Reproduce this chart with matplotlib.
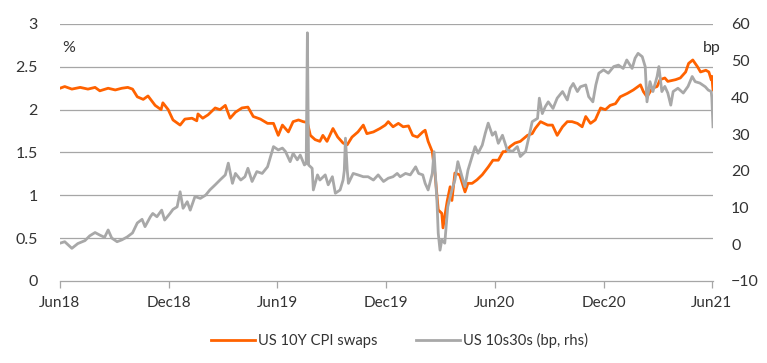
import matplotlib
matplotlib.use("Agg")
import matplotlib.pyplot as plt
import pandas as pd

plt.rcParams['font.family'] = ['Lato', 'DejaVu Sans']

# ---- data -------------------------------------------------------------
cpi_dates = [
    "2018-06-01", "2018-06-09", "2018-06-21", "2018-07-05", "2018-07-18", "2018-07-30",
    "2018-08-07", "2018-08-21", "2018-09-02", "2018-09-13", "2018-09-23", "2018-10-01",
    "2018-10-09", "2018-10-19", "2018-10-27", "2018-11-08", "2018-11-18", "2018-11-21",
    "2018-11-30", "2018-12-08", "2018-12-20", "2018-12-28", "2019-01-09", "2019-01-17",
    "2019-01-19", "2019-01-27", "2019-02-05", "2019-02-17", "2019-02-25", "2019-03-06",
    "2019-03-14", "2019-03-23", "2019-04-03", "2019-04-13", "2019-04-22", "2019-05-04",
    "2019-05-16", "2019-05-26", "2019-06-03", "2019-06-10", "2019-06-20", "2019-06-28",
    "2019-07-07", "2019-07-15", "2019-07-22", "2019-07-27", "2019-08-04", "2019-08-12",
    "2019-08-17", "2019-08-24", "2019-09-03", "2019-09-11", "2019-09-20", "2019-09-27",
    "2019-10-05", "2019-10-15", "2019-10-24", "2019-10-30", "2019-11-10", "2019-11-21",
    "2019-11-30", "2019-12-05", "2019-12-13", "2019-12-22", "2019-12-30", "2020-01-08",
    "2020-01-15", "2020-01-23", "2020-02-01", "2020-02-05", "2020-02-10", "2020-02-17",
    "2020-02-22", "2020-02-27", "2020-03-04", "2020-03-06", "2020-03-13", "2020-03-18",
    "2020-03-21", "2020-03-26", "2020-04-03", "2020-04-12", "2020-04-17", "2020-04-24",
    "2020-05-02", "2020-05-11", "2020-05-21", "2020-05-29", "2020-06-07", "2020-06-15",
    "2020-06-19", "2020-06-27", "2020-07-05", "2020-07-14", "2020-07-26", "2020-08-03",
    "2020-08-08", "2020-08-17", "2020-08-29", "2020-09-06", "2020-09-14", "2020-09-23",
    "2020-10-01", "2020-10-09", "2020-10-18", "2020-10-26", "2020-11-01", "2020-11-09",
    "2020-11-17", "2020-11-26", "2020-12-04", "2020-12-12", "2020-12-21", "2020-12-29",
    "2021-01-10", "2021-01-20", "2021-02-01", "2021-02-06", "2021-02-12", "2021-02-21",
    "2021-03-01", "2021-03-06", "2021-03-14", "2021-03-19", "2021-04-01", "2021-04-09",
    "2021-04-18", "2021-04-23", "2021-04-30", "2021-05-08", "2021-05-13", "2021-05-22",
    "2021-05-27", "2021-05-31", "2021-06-01", "2021-06-03",
]
cpi_swaps = [
    2.25, 2.27, 2.24, 2.26, 2.24, 2.26,
    2.22, 2.25, 2.23, 2.25, 2.26, 2.24,
    2.15, 2.12, 2.16, 2.05, 2.00, 2.08,
    2.00, 1.88, 1.82, 1.89, 1.90, 1.87,
    1.95, 1.90, 1.94, 2.02, 2.00, 2.05,
    1.90, 1.97, 2.02, 2.03, 1.92, 1.89,
    1.84, 1.84, 1.70, 1.82, 1.74, 1.86,
    1.88, 1.86, 1.85, 1.70, 1.65, 1.63,
    1.70, 1.63, 1.78, 1.68, 1.61, 1.59,
    1.68, 1.74, 1.82, 1.72, 1.74, 1.78,
    1.82, 1.86, 1.80, 1.84, 1.80, 1.81,
    1.70, 1.68, 1.74, 1.76, 1.63, 1.51,
    1.22, 0.83, 0.79, 0.62, 0.93, 1.10,
    0.94, 1.26, 1.24, 1.04, 1.14, 1.14,
    1.18, 1.24, 1.33, 1.41, 1.41, 1.51,
    1.51, 1.57, 1.61, 1.63, 1.70, 1.72,
    1.78, 1.86, 1.82, 1.82, 1.70, 1.80,
    1.86, 1.86, 1.84, 1.80, 1.92, 1.84,
    1.88, 2.02, 2.00, 2.05, 2.07, 2.15,
    2.19, 2.23, 2.29, 2.21, 2.15, 2.25,
    2.27, 2.35, 2.37, 2.33, 2.35, 2.37,
    2.44, 2.54, 2.58, 2.50, 2.44, 2.46,
    2.44, 2.35, 2.39, 2.23,
]

curve_dates = [
    "2018-06-01", "2018-06-09", "2018-06-21", "2018-07-01", "2018-07-13", "2018-07-21",
    "2018-07-30", "2018-08-07", "2018-08-15", "2018-08-21", "2018-08-27", "2018-09-05",
    "2018-09-13", "2018-09-22", "2018-10-01", "2018-10-09", "2018-10-17", "2018-10-22",
    "2018-10-31", "2018-11-04", "2018-11-11", "2018-11-19", "2018-11-24", "2018-12-03",
    "2018-12-08", "2018-12-15", "2018-12-20", "2018-12-25", "2019-01-01", "2019-01-06",
    "2019-01-14", "2019-01-23", "2019-02-01", "2019-02-08", "2019-02-17", "2019-02-25",
    "2019-03-06", "2019-03-11", "2019-03-18", "2019-03-23", "2019-04-01", "2019-04-08",
    "2019-04-13", "2019-04-20", "2019-04-28", "2019-05-07", "2019-05-16", "2019-05-21",
    "2019-05-26", "2019-06-03", "2019-06-10", "2019-06-15", "2019-06-23", "2019-06-28",
    "2019-07-05", "2019-07-10", "2019-07-17", "2019-07-20", "2019-07-22", "2019-07-24",
    "2019-07-30", "2019-08-01", "2019-08-08", "2019-08-12", "2019-08-21", "2019-08-26",
    "2019-09-02", "2019-09-07", "2019-09-15", "2019-09-20", "2019-09-22", "2019-09-24",
    "2019-09-27", "2019-09-29", "2019-10-07", "2019-10-15", "2019-10-24", "2019-11-01",
    "2019-11-10", "2019-11-18", "2019-11-27", "2019-12-05", "2019-12-13", "2019-12-20",
    "2019-12-25", "2020-01-03", "2020-01-11", "2020-01-20", "2020-01-25", "2020-02-01",
    "2020-02-05", "2020-02-10", "2020-02-17", "2020-02-20", "2020-02-25", "2020-02-27",
    "2020-03-01", "2020-03-04", "2020-03-09", "2020-03-14", "2020-03-21", "2020-03-26",
    "2020-03-31", "2020-04-07", "2020-04-12", "2020-04-17", "2020-04-24", "2020-04-29",
    "2020-05-04", "2020-05-11", "2020-05-16", "2020-05-21", "2020-05-28", "2020-06-02",
    "2020-06-07", "2020-06-14", "2020-06-22", "2020-07-01", "2020-07-09", "2020-07-14",
    "2020-07-23", "2020-07-28", "2020-08-03", "2020-08-12", "2020-08-15", "2020-08-20",
    "2020-08-25", "2020-08-30", "2020-09-07", "2020-09-14", "2020-09-23", "2020-10-01",
    "2020-10-06", "2020-10-11", "2020-10-18", "2020-10-23", "2020-11-01", "2020-11-06",
    "2020-11-13", "2020-11-18", "2020-11-23", "2020-12-01", "2020-12-09", "2020-12-18",
    "2020-12-26", "2021-01-03", "2021-01-09", "2021-01-18", "2021-01-23", "2021-01-28",
    "2021-02-04", "2021-02-09", "2021-02-12", "2021-02-17", "2021-02-22", "2021-03-01",
    "2021-03-04", "2021-03-09", "2021-03-14", "2021-03-19", "2021-03-24", "2021-03-28",
    "2021-04-05", "2021-04-14", "2021-04-22", "2021-04-29", "2021-05-04", "2021-05-12",
    "2021-05-21", "2021-05-26", "2021-05-31", "2021-06-01", "2021-06-03",
]
us_10s30s = [
    0.3, 0.7, -1.1, 0.2, 1.0, 2.3,
    3.2, 2.5, 1.9, 3.9, 1.7, 0.7,
    1.2, 2.0, 3.1, 5.8, 6.8, 4.8,
    7.5, 8.4, 7.5, 9.3, 6.6, 8.4,
    9.5, 10.2, 14.3, 9.8, 11.6, 9.3,
    13.0, 12.5, 13.4, 14.8, 16.2, 17.5,
    18.9, 22.1, 16.6, 19.3, 17.5, 18.4,
    20.7, 17.1, 19.8, 19.3, 21.1, 23.9,
    26.6, 25.7, 26.2, 25.3, 22.5, 24.8,
    23.0, 24.3, 21.6, 22.0, 57.6, 21.6,
    20.7, 14.8, 18.9, 17.5, 18.9, 16.2,
    18.4, 13.9, 14.8, 17.5, 20.0, 28.9,
    20.2, 16.6, 19.3, 18.9, 18.4, 18.4,
    17.5, 18.9, 17.1, 18.0, 18.4, 19.3,
    18.4, 19.3, 18.9, 21.1, 19.3, 18.9,
    16.6, 14.8, 19.3, 25.2, 11.2, 3.0,
    -1.6, 1.2, 0.3, 10.2, 14.8, 17.5,
    22.5, 18.4, 15.7, 20.2, 23.9, 26.6,
    24.8, 27.0, 30.2, 33.0, 29.7, 30.6,
    27.5, 29.7, 25.7, 25.3, 26.6, 23.9,
    25.3, 28.9, 33.4, 34.3, 39.8, 35.6,
    37.5, 38.8, 37.0, 39.8, 41.6, 39.3,
    42.5, 43.8, 41.6, 42.9, 43.4, 40.2,
    38.8, 43.4, 46.6, 47.5, 46.6, 48.4,
    48.8, 47.9, 50.2, 47.9, 50.7, 52.0,
    51.1, 48.4, 38.8, 44.3, 41.6, 45.7,
    48.4, 41.6, 43.0, 41.2, 37.9, 41.6,
    42.5, 41.2, 43.0, 45.7, 44.3, 43.9,
    42.9, 42.0, 41.6, 40.0, 32.0,
]

tick_dates = ["2018-06-01", "2018-12-01", "2019-06-01", "2019-12-01",
              "2020-06-01", "2020-12-01", "2021-06-01"]
tick_labels = ["Jun18", "Dec18", "Jun19", "Dec19", "Jun20", "Dec20", "Jun21"]
left_ticks = [0, 0.5, 1, 1.5, 2, 2.5, 3]
left_labels = ["0", "0.5", "1", "1.5", "2", "2.5", "3"]
right_ticks = [-10, 0, 10, 20, 30, 40, 50, 60]

# ---- style ------------------------------------------------------------
ORANGE = "#FF6200"
GREY = "#A8A8A8"
GRID = "#A6A6A6"
TEXT = "#333333"

fig = plt.figure(figsize=(7.67, 3.63), dpi=100)
ax = fig.add_axes([0.0782, 0.2259, 0.8514, 0.7080])
ax2 = ax.twinx()

cd = pd.to_datetime(cpi_dates)
gd = pd.to_datetime(curve_dates)

l1, = ax.plot(cd, cpi_swaps, color=ORANGE, lw=2.0, solid_joinstyle="round",
              label="US 10Y CPI swaps", zorder=3)
l2, = ax2.plot(gd, us_10s30s, color=GREY, lw=2.0, solid_joinstyle="round",
               label="US 10s30s (bp, rhs)", zorder=3)

ax.set_ylim(0, 3)
ax2.set_ylim(-10, 60)
ax.set_xlim(pd.Timestamp("2018-06-01"), pd.Timestamp("2021-06-03"))

ax.set_yticks(left_ticks)
ax.set_yticklabels(left_labels)
ax2.set_yticks(right_ticks)
ax.set_xticks(pd.to_datetime(tick_dates))
ax.set_xticklabels(tick_labels)

for y in left_ticks[1:]:
    ax.axhline(y, color=GRID, lw=0.9, zorder=1)

for a in (ax, ax2):
    for s in ("top", "left", "right", "bottom"):
        a.spines[s].set_visible(False)

ax.spines["bottom"].set_visible(True)
ax.spines["bottom"].set_color(GRID)
ax.spines["bottom"].set_linewidth(0.9)

ax.tick_params(axis="y", length=0, pad=16, labelsize=11.5, labelcolor=TEXT)
ax2.tick_params(axis="y", length=0, pad=13, labelsize=11.5, labelcolor=TEXT)
ax.tick_params(axis="x", length=5, width=0.9, color=GRID, direction="out",
               pad=6, labelsize=11, labelcolor=TEXT)

ax.text(0.003, 0.905, "%", transform=ax.transAxes, fontsize=11.5,
        color=TEXT, ha="left", va="center")
ax.text(1.012, 0.905, "bp", transform=ax.transAxes, fontsize=11.5,
        color=TEXT, ha="right", va="center")

ax2.set_zorder(ax.get_zorder() + 1)
ax2.patch.set_visible(False)

fig.legend(handles=[l1, l2], loc="center", bbox_to_anchor=(0.521, 0.062),
           ncol=2, frameon=False, fontsize=10.6, handlelength=3.0,
           handletextpad=0.2, columnspacing=2.6, labelcolor=TEXT)

fig.savefig("out.png", dpi=100)
